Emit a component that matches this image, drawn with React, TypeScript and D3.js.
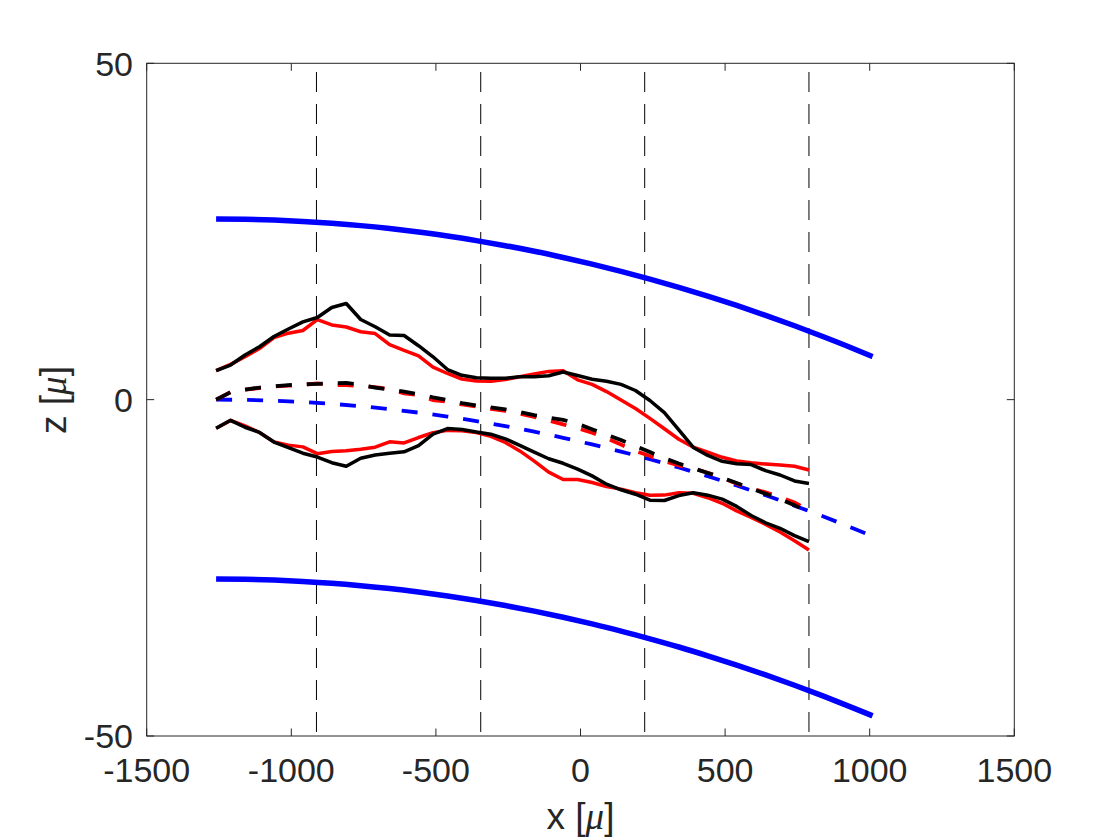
import React from 'react';
import * as d3 from 'd3';

// x positions (μ) of the measured profiles
const profileX = [-1260, -1210, -1160, -1110, -1060, -1010, -960, -910, -860, -810, -760, -710, -660, -610, -560, -510, -460, -410, -360, -310, -260, -210, -160, -110, -60, -10, 40, 90, 140, 190, 240, 290, 340, 390, 440, 490, 540, 590, 640, 690, 740, 790];

const blackUpper = [4.30, 5.15, 6.64, 7.87, 9.39, 10.50, 11.57, 12.21, 13.70, 14.29, 11.91, 10.83, 9.61, 9.54, 8.02, 6.37, 4.48, 3.62, 3.25, 3.17, 3.19, 3.41, 3.41, 3.56, 4.11, 3.59, 3.04, 2.73, 2.27, 1.36, -0.13, -1.94, -4.48, -7.11, -8.30, -9.16, -9.52, -9.65, -10.56, -11.20, -12.09, -12.45];
const blackLower = [-4.26, -3.07, -4.10, -4.88, -6.30, -7.14, -7.96, -8.53, -9.37, -9.89, -8.70, -8.23, -7.98, -7.75, -6.85, -5.11, -4.30, -4.44, -4.82, -5.15, -5.82, -6.79, -7.80, -8.79, -9.46, -10.32, -11.33, -12.57, -13.40, -14.06, -14.95, -14.99, -14.26, -13.83, -14.20, -14.78, -15.87, -17.22, -18.31, -19.12, -20.21, -21.12];
const blackMid = [0.0, 1.1, 1.5, 1.8, 2.0, 2.15, 2.3, 2.35, 2.45, 2.5, 2.2, 1.8, 1.5, 1.2, 0.8, 0.35, -0.05, -0.5, -0.85, -1.15, -1.45, -1.85, -2.3, -2.7, -3.0, -3.6, -4.4, -5.2, -6.0, -6.9, -7.8, -8.7, -9.5, -10.2, -10.9, -11.6, -12.4, -13.2, -14.0, -14.8, -15.7, -16.7];

const redUpper = [4.30, 5.24, 6.37, 7.60, 9.24, 9.88, 10.28, 11.90, 11.10, 10.80, 10.09, 9.83, 8.17, 7.34, 6.49, 4.82, 3.89, 3.07, 2.77, 2.74, 2.98, 3.41, 3.81, 4.20, 4.29, 2.95, 2.28, 1.20, -0.05, -1.32, -2.79, -4.33, -5.89, -7.07, -7.80, -8.57, -9.13, -9.39, -9.57, -9.71, -9.91, -10.46];
const redLower = [-4.26, -3.10, -3.89, -4.88, -6.28, -6.76, -7.02, -8.03, -7.72, -7.59, -7.37, -7.07, -6.27, -6.43, -5.63, -4.91, -4.57, -4.62, -4.88, -5.45, -6.37, -7.62, -9.13, -10.78, -11.88, -11.86, -12.32, -12.91, -13.30, -13.83, -14.20, -14.19, -13.83, -13.92, -14.58, -15.41, -16.54, -17.49, -18.54, -19.67, -20.97, -22.35];
const redMid = [0.0, 1.12, 1.48, 1.72, 1.96, 2.08, 2.19, 2.41, 2.16, 2.15, 2.05, 1.85, 1.58, 0.94, 0.70, -0.06, -0.31, -0.72, -1.01, -1.37, -1.68, -2.10, -2.58, -3.10, -3.67, -4.25, -4.92, -5.76, -6.67, -7.64, -8.38, -9.17, -9.79, -10.22, -10.86, -11.61, -12.48, -13.20, -13.77, -14.52, -15.27, -16.47];

// model curves
const modelX = [-1260, -1160, -1060, -960, -860, -760, -660, -560, -460, -360, -260, -160, -60, 40, 140, 240, 340, 440, 540, 640, 740, 840, 940, 1010];
const modelUpper = [26.86, 26.82, 26.70, 26.50, 26.22, 25.87, 25.43, 24.91, 24.32, 23.64, 22.89, 22.06, 21.14, 20.15, 19.08, 17.93, 16.70, 15.39, 14.00, 12.53, 10.98, 9.35, 7.65, 6.40];
const modelMid = [0, -0.04, -0.16, -0.35, -0.63, -0.98, -1.42, -1.93, -2.52, -3.19, -3.94, -4.77, -5.67, -6.66, -7.72, -8.86, -10.09, -11.39, -12.77, -14.22, -15.76, -17.38, -19.07, -20.3];
const modelLower = [-26.66, -26.70, -26.82, -27.02, -27.29, -27.65, -28.08, -28.60, -29.19, -29.86, -30.61, -31.44, -32.35, -33.34, -34.40, -35.55, -36.77, -38.08, -39.46, -40.92, -42.46, -44.08, -45.78, -47.0];

// vertical section markers
const sectionX = [-913, -345, 222, 790];
const sectionSpan = [48.7, -49.4];

const xTicks = [-1500, -1000, -500, 0, 500, 1000, 1500];
const yTicks = [-50, 0, 50];

const TEXT = '#262626';
const FONT = '"Liberation Sans", Arial, Helvetica, sans-serif';
const SERIF = '"Liberation Serif", "Times New Roman", serif';

export default function App() {
  const left = 146.7, right = 1014.3, top = 63.3, bottom = 736;
  const x = d3.scaleLinear().domain([-1500, 1500]).range([left, right]);
  const y = d3.scaleLinear().domain([-50, 50]).range([bottom, top]);

  const path = (xs: number[], ys: number[], curve = d3.curveLinear) =>
    d3.line<number>().x((_, i) => x(xs[i])).y((d) => y(d)).curve(curve)(ys) || '';

  const tickLen = 7.5;

  return (
    <svg
      width={1120}
      height={840}
      style={{ position: 'absolute', left: 0, top: 0, background: '#fff' }}
      xmlns="http://www.w3.org/2000/svg"
    >
      <rect x={0} y={0} width={1120} height={840} fill="#fff" />
      <defs>
        <clipPath id="plotclip">
          <rect x={left} y={top} width={right - left} height={bottom - top} />
        </clipPath>
      </defs>

      <g clipPath="url(#plotclip)" fill="none">
        {sectionX.map((sx) => (
          <line
            key={sx}
            x1={x(sx)}
            x2={x(sx)}
            y1={y(sectionSpan[0])}
            y2={y(sectionSpan[1])}
            stroke="#000"
            strokeWidth={1}
            strokeDasharray="20 12"
          />
        ))}
        <path d={path(modelX, modelUpper, d3.curveMonotoneX)} stroke="#0000ff" strokeWidth={5.5} />
        <path d={path(modelX, modelLower, d3.curveMonotoneX)} stroke="#0000ff" strokeWidth={5.5} />
        <path d={path(modelX, modelMid, d3.curveMonotoneX)} stroke="#0000ff" strokeWidth={3.8} strokeDasharray="16 15" />
        <path d={path(profileX, redUpper)} stroke="#ff0000" strokeWidth={3.5} strokeLinejoin="round" />
        <path d={path(profileX, redLower)} stroke="#ff0000" strokeWidth={3.5} strokeLinejoin="round" />
        <path d={path(profileX, redMid)} stroke="#ff0000" strokeWidth={3.8} strokeDasharray="16 15" />
        <path d={path(profileX, blackUpper)} stroke="#000" strokeWidth={3.5} strokeLinejoin="round" />
        <path d={path(profileX, blackLower)} stroke="#000" strokeWidth={3.5} strokeLinejoin="round" />
        <path d={path(profileX, blackMid)} stroke="#000" strokeWidth={3.8} strokeDasharray="16 15" />
      </g>

      <rect x={left} y={top} width={right - left} height={bottom - top} fill="none" stroke={TEXT} strokeWidth={1} />
      {xTicks.map((t) => (
        <g key={'xt' + t}>
          <line x1={x(t)} x2={x(t)} y1={bottom} y2={bottom - tickLen} stroke={TEXT} strokeWidth={1} />
          <line x1={x(t)} x2={x(t)} y1={top} y2={top + tickLen} stroke={TEXT} strokeWidth={1} />
          <text x={x(t)} y={782} textAnchor="middle" fontFamily={FONT} fontSize={34} fill={TEXT}>
            {t}
          </text>
        </g>
      ))}
      {yTicks.map((t) => (
        <g key={'yt' + t}>
          <line x1={left} x2={left + tickLen} y1={y(t)} y2={y(t)} stroke={TEXT} strokeWidth={1} />
          <line x1={right} x2={right - tickLen} y1={y(t)} y2={y(t)} stroke={TEXT} strokeWidth={1} />
          <text x={133} y={y(t) + 12.2} textAnchor="end" fontFamily={FONT} fontSize={34} fill={TEXT}>
            {t}
          </text>
        </g>
      ))}

      <text x={(left + right) / 2} y={829} textAnchor="middle" fontFamily={FONT} fontSize={37} fill={TEXT}>
        x [<tspan fontFamily={SERIF} fontStyle="italic">μ</tspan>]
      </text>
      <text
        transform={`translate(66, 400) rotate(-90)`}
        textAnchor="middle"
        fontFamily={FONT}
        fontSize={37}
        fill={TEXT}
      >
        z [<tspan fontFamily={SERIF} fontStyle="italic">μ</tspan>]
      </text>
    </svg>
  );
}
